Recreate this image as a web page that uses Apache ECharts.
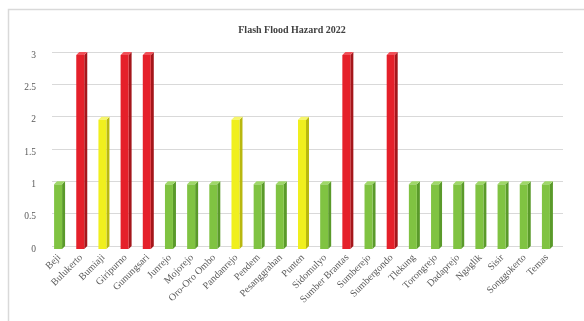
<!DOCTYPE html>
<html>
<head>
<meta charset="utf-8">
<script src="https://cdn.jsdelivr.net/npm/echarts@6/dist/echarts.min.js"></script>
<style>
html,body{margin:0;padding:0;background:#fff;}
#chart{width:584px;height:321px;}
</style>
</head>
<body>
<div id="chart"></div>
<script>
const categories = ["Beji","Bulukerto","Bumiaji","Giripurno","Gunungsari","Junrejo","Mojorejo","Oro-Oro Ombo","Pandanrejo","Pendem","Pesanggrahan","Punten","Sidomulyo","Sumber Brantas","Sumberejo","Sumbergondo","Tlekung","Torongrejo","Dadaprejo","Ngaglik","Sisir","Songgokerto","Temas"];
const hazardValues = [1,3,2,3,3,1,1,1,2,1,1,2,1,3,1,3,1,1,1,1,1,1,1];
const yTicks = [0,0.5,1,1.5,2,2.5,3];

const palette = {
  1: {front:'#80c342', side:'#5a9a2a', top:'#9fd868'},
  2: {front:'#f0ef1e', side:'#b9b80f', top:'#f7f66a'},
  3: {front:'#e5202a', side:'#a5161b', top:'#f05058'}
};

const chart = echarts.init(document.getElementById('chart'), null, {renderer:'canvas'});
const serif = '"Liberation Serif","DejaVu Serif",serif';

chart.setOption({
  animation:false,
  backgroundColor:'#fff',
  title:{
    text:'Flash Flood Hazard 2022',
    left:'center', top:20,
    textStyle:{fontFamily:serif, fontSize:10, fontWeight:'bold', color:'#404040'}
  },
  graphic:[{
    type:'rect', left:6, top:7,
    shape:{width:600, height:330},
    style:{fill:'none', stroke:'#d9d9d9', lineWidth:1.5}, silent:true, z:-1
  }],
  grid:[
    {left:48, right:26, top:55, bottom:72},
    {left:52, right:21, top:52, bottom:75}
  ],
  xAxis:[{
    type:'category', data:categories, gridIndex:0,
    axisLine:{show:false}, axisTick:{show:false},
    axisLabel:{rotate:45, interval:0, fontFamily:serif, fontSize:10, color:'#595959', margin:7}
  },{
    type:'category', data:categories, gridIndex:1, show:false
  }],
  yAxis:[{
    type:'value', min:0, max:3, interval:0.5, gridIndex:0,
    axisLine:{show:false}, axisTick:{show:false},
    splitLine:{show:false},
    axisLabel:{fontFamily:serif, fontSize:9.5, color:'#595959', margin:12,
      formatter:v=>String(v)}
  },{
    type:'value', min:0, max:3, interval:0.5, gridIndex:1,
    axisLine:{show:false}, axisTick:{show:false}, axisLabel:{show:false},
    splitLine:{lineStyle:{color:'#d9d9d9', width:1}}
  }],
  series:[{
    type:'custom',
    xAxisIndex:0, yAxisIndex:0,
    data:hazardValues.map((v,i)=>[i,v]),
    encode:{x:0,y:1},
    renderItem:function(params, api){
      const i = api.value(0), v = api.value(1);
      const top = api.coord([i, v]);
      const base = api.coord([i, 0]);
      const w = 8, d = 3;
      const x0 = top[0] - w/2 - 1;
      const c = palette[v];
      return {
        type:'group',
        children:[
          {type:'polygon', shape:{points:[[x0+w,top[1]],[x0+w+d,top[1]-d],[x0+w+d,base[1]-d],[x0+w,base[1]]]}, style:{fill:c.side}},
          {type:'polygon', shape:{points:[[x0,top[1]],[x0+w,top[1]],[x0+w+d,top[1]-d],[x0+d,top[1]-d]]}, style:{fill:c.top}},
          {type:'rect', shape:{x:x0, y:top[1], width:w, height:base[1]-top[1]}, style:{fill:c.front}}
        ]
      };
    }
  }]
});
</script>
</body>
</html>
